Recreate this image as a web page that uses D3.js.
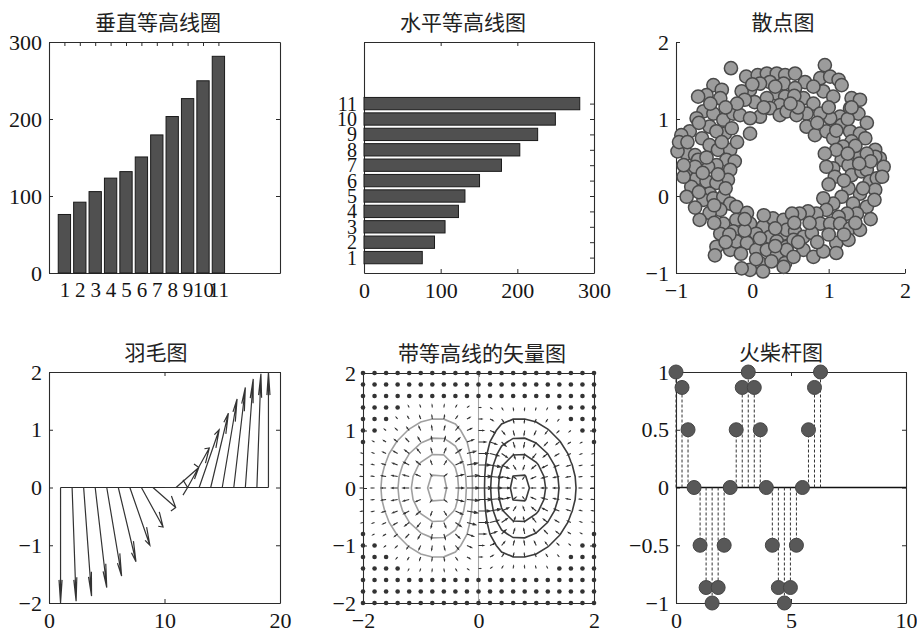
<!DOCTYPE html>
<html><head><meta charset="utf-8">
<script src="https://cdn.jsdelivr.net/npm/d3@7"></script>
<style>body{margin:0;background:#fff}svg{display:block}</style>
</head><body>
<svg id="c" width="917" height="634"></svg>
<script>
// ---------------- data ----------------
const titles = ["垂直等高线圈", "水平等高线图", "散点图", "羽毛图", "带等高线的矢量图", "火柴杆图"];

// bar charts (census-like growth values)
const barCategories = [1, 2, 3, 4, 5, 6, 7, 8, 9, 10, 11];
const barValues = [75.995, 91.972, 105.711, 123.203, 131.669, 150.697, 179.323, 203.212, 226.505, 249.633, 281.422];
const barValueTicks = [0, 100, 200, 300];

// scatter ring (positions)
const scatterX = [-0.28,-0.08,0.07,0.19,0.32,0.43,0.23,0.10,-0.03,-0.14,0.41,0.32,0.19,0.03,-0.10,0.43,0.36,0.23,0.10,0.36,0.45,
 -0.51,-0.40,-0.60,-0.71,-0.42,-0.64,-0.73,-0.51,-0.38,-0.25,-0.16,-0.03,-0.03,-0.56,-0.66,-0.82,-0.93,-0.36,-0.47,-0.27,
 -0.86,-0.75,-0.56,-0.45,-0.29,-0.34,-0.23,-0.47,-0.58,-0.71,-0.82,-0.73,-0.60,-0.29,-0.32,-0.47,-0.80,-0.86,-0.56,-0.64,-0.51,-0.38,-0.29,-0.21,-0.42,-0.56,-0.69,-0.38,-0.21,-0.07,-0.03,0.14,0.05,0.27,0.41,0.41,0.23,-0.25,-0.42,-0.47,-0.49,-0.29,-0.21,-0.07,0.05,0.19,0.32,0.10,-0.03,-0.14,0.14,0.43,0.32,0.45,
 0.95,0.56,0.69,0.89,1.02,1.13,0.56,0.67,0.80,0.93,1.06,1.17,1.30,1.41,1.39,1.28,1.15,1.02,0.89,0.71,0.58,0.71,0.82,0.97,1.06,1.17,1.28,1.41,1.48,1.30,1.19,
 1.61,1.67,1.72,1.61,1.41,1.17,1.06,0.97,1.08,1.26,1.30,1.43,1.50,1.54,1.63,1.61,1.41,1.26,1.17,1.06,0.93,1.32,1.50,1.37,1.24,1.13,0.97,0.84,0.73,0.62,0.52,0.89,1.02,1.15,1.28,1.41,0.45,0.56,0.67,0.78,0.54,0.67,0.80,0.93,1.10,1.26,1.10,0.45,0.54,0.41,
 -0.98,-0.96,
 0.00,0.30,0.55,0.80,0.60,0.85,0.50,-0.20,0.15,-0.35,-0.55,1.00,1.25,1.10,
 -0.70,-0.85,-0.60,-0.40,-0.20,-0.75,-0.90,-0.65,-0.45,-0.70,-0.90,-0.35,-0.75,-0.50,
 -0.50,-0.30,-0.10,0.10,0.30,0.55,0.75,-0.35,-0.15,0.05,0.25,0.60,0.85,1.00,1.20,0.30,-0.10,0.15,
 1.50,1.35,1.55,1.70,1.45,1.35,1.55,1.20,1.00,1.10,1.25,1.40,1.60,0.95,1.50,1.30];
const scatterY = [1.66,1.55,1.57,1.59,1.59,1.57,1.48,1.46,1.38,1.36,1.46,1.33,1.27,1.22,1.25,1.29,1.18,1.14,1.03,1.05,1.10,
 1.44,1.38,1.31,1.29,1.27,1.10,1.01,1.07,0.99,1.07,1.05,1.01,0.81,0.90,0.75,0.84,0.79,0.81,0.84,0.88,
 0.55,0.53,0.66,0.60,0.60,0.47,0.45,0.40,0.38,0.47,0.32,0.23,0.19,0.34,0.21,0.17,0.12,-0.01,0.03,-0.05,-0.03,-0.01,-0.10,-0.14,-0.18,-0.22,-0.31,-0.36,-0.31,-0.22,-0.36,-0.40,-0.49,-0.29,-0.31,-0.49,-0.53,-0.46,-0.49,-0.66,-0.77,-0.70,-0.59,-0.61,-0.70,-0.70,-0.77,-0.87,-0.96,-0.94,-0.98,-0.87,-0.59,-0.66,
 1.70,1.59,1.48,1.53,1.55,1.51,1.40,1.27,1.20,1.36,1.29,1.44,1.27,1.25,1.07,1.14,1.03,1.01,1.07,1.07,1.05,0.90,0.79,0.84,0.75,0.92,0.84,0.81,0.75,0.71,0.64,
 0.60,0.49,0.38,0.51,0.51,0.47,0.36,0.38,0.25,0.40,0.27,0.32,0.34,0.19,0.23,0.08,0.03,0.10,-0.01,-0.10,-0.03,-0.10,-0.14,-0.23,-0.23,-0.27,-0.18,-0.23,-0.20,-0.23,-0.23,-0.36,-0.36,-0.36,-0.42,-0.44,-0.44,-0.46,-0.53,-0.48,-0.57,-0.70,-0.79,-0.72,-0.61,-0.57,-0.74,-0.70,-0.79,-0.92,
 0.58,0.70,
 1.45,1.42,1.30,1.42,1.15,0.95,1.20,1.20,1.15,1.15,1.20,1.15,1.00,0.85,
 0.95,0.70,0.50,0.70,0.70,0.38,0.25,0.30,0.28,0.05,0.40,0.10,-0.15,-0.12,
 -0.35,-0.50,-0.45,-0.55,-0.42,-0.35,-0.35,-0.60,-0.75,-0.82,-0.85,-0.60,-0.60,-0.50,-0.50,-0.65,-0.30,-0.25,
 0.55,0.65,0.45,0.25,0.10,-0.35,-0.30,0.20,0.15,0.60,0.55,0.42,-0.05,0.55,0.95,1.15];
const scatterTicks = [-1, 0, 1, 2];

// feather (19 vectors of length 2, angles -90..90)
const featherPos = [1,2,3,4,5,6,7,8,9,10,11,12,13,14,15,16,17,18,19];
const featherU = [0,0.3473,0.6840,1.0000,1.2856,1.5321,1.7321,1.8794,1.9696,2.0000,1.9696,1.8794,1.7321,1.5321,1.2856,1.0000,0.6840,0.3473,0];
const featherV = [-2,-1.9696,-1.8794,-1.7321,-1.5321,-1.2856,-1.0000,-0.6840,-0.3473,0,0.3473,0.6840,1.0000,1.2856,1.5321,1.7321,1.8794,1.9696,2];
const featherXTicks = [0, 10, 20];
const featherYTicks = [-2, -1, 0, 1, 2];

// quiver + contour: separable surface z(x,y) = xProfile(x) * yProfile(y) on a 21x21 grid
const quiverGrid = [-2,-1.8,-1.6,-1.4,-1.2,-1,-0.8,-0.6,-0.4,-0.2,0,0.2,0.4,0.6,0.8,1,1.2,1.4,1.6,1.8,2];
const quiverXProfile = [-0.036631,-0.070495,-0.123687,-0.197201,-0.284313,-0.367879,-0.421834,-0.418606,-0.340858,-0.192158,0,
  0.192158,0.340858,0.418606,0.421834,0.367879,0.284313,0.197201,0.123687,0.070495,0.036631];
const quiverYProfile = [0.018316,0.039164,0.077305,0.140858,0.236928,0.367879,0.527292,0.697676,0.852144,0.960789,1,
  0.960789,0.852144,0.697676,0.527292,0.367879,0.236928,0.140858,0.077305,0.039164,0.018316];
const contourLevels = [-0.4,-0.3,-0.2,-0.1,0,0.1,0.2,0.3,0.4];
const quiverXTicks = [-2, 0, 2];
const quiverYTicks = [-2, -1, 0, 1, 2];

// stem
const stemX = [0,0.2618,0.5236,0.7854,1.0472,1.3090,1.5708,1.8326,2.0944,2.3562,2.6180,2.8798,3.1416,3.4034,3.6652,3.9270,4.1888,4.4506,4.7124,4.9742,5.2360,5.4978,5.7596,6.0214,6.2832];
const stemY = [1,0.866,0.5,0,-0.5,-0.866,-1,-0.866,-0.5,0,0.5,0.866,1,0.866,0.5,0,-0.5,-0.866,-1,-0.866,-0.5,0,0.5,0.866,1];
const stemXTicks = [0, 5, 10];
const stemYTicks = [-1, -0.5, 0, 0.5, 1];

// ---------------- drawing ----------------
const svg = d3.select("#c");
const SERIF = "'Liberation Serif','Times New Roman',serif";
const CJK = "'Noto Sans CJK SC','Noto Sans CJK JP',sans-serif";
const fmt = d3.format("");
const TK = 4;
const INK = "#2b2b2b";
const FS = 22;

function panel(cfg) {
  const x = d3.scaleLinear().domain(cfg.xDomain).range([cfg.left, cfg.right]);
  const y = d3.scaleLinear().domain(cfg.yDomain).range([cfg.bottom, cfg.top]);
  const g = svg.append("g");
  const styleAxis = (a, fs) => {
    a.attr("font-family", SERIF).attr("font-size", fs || FS);
    a.selectAll(".domain").attr("stroke", INK).attr("stroke-width", 1.1);
    a.selectAll(".tick line").attr("stroke", INK).attr("stroke-width", 1);
    a.selectAll("text").attr("fill", "#151515");
    return a;
  };
  styleAxis(g.append("g").attr("transform", `translate(0,${cfg.bottom})`)
    .call(d3.axisBottom(x).tickValues(cfg.xTicks).tickFormat(fmt).tickSizeInner(-TK).tickSizeOuter(0).tickPadding(9)), cfg.xfs);
  styleAxis(g.append("g").attr("transform", `translate(${cfg.left},0)`)
    .call(d3.axisLeft(y).tickValues(cfg.yTicks).tickFormat(fmt).tickSizeInner(-TK).tickSizeOuter(0).tickPadding(7)), cfg.yfs);
  if (cfg.box) {
    styleAxis(g.append("g").attr("transform", `translate(0,${cfg.top})`)
      .call(d3.axisTop(x).tickValues(cfg.xTicks).tickFormat(() => "").tickSizeInner(-TK).tickSizeOuter(0)));
    styleAxis(g.append("g").attr("transform", `translate(${cfg.right},0)`)
      .call(d3.axisRight(y).tickValues(cfg.yTicks).tickFormat(() => "").tickSizeInner(-TK).tickSizeOuter(0)));
  }
  g.append("text").attr("x", cfg.titleX).attr("y", cfg.top - 12)
    .attr("text-anchor", "middle").attr("font-family", CJK).attr("font-size", 21)
    .attr("fill", "#222").text(cfg.title);
  const marks = g.append("g");
  return { x, y, g, marks, cfg };
}

// 1. vertical bars
{
  const p = panel({left: 49, right: 280, top: 42, bottom: 273, xDomain: [0, 15], yDomain: [0, 300],
    xTicks: barCategories, yTicks: barValueTicks, box: true, title: titles[0], titleX: 158, xfs: 21});
  const bw = (p.x(0.8) - p.x(0));
  p.marks.selectAll("rect").data(barValues).join("rect")
    .attr("x", (d, i) => p.x(barCategories[i]) - bw / 2)
    .attr("width", bw)
    .attr("y", d => p.y(d))
    .attr("height", d => p.y(0) - p.y(d))
    .attr("fill", "#505050").attr("stroke", "#1a1a1a").attr("stroke-width", 1);
}

// 2. horizontal bars
{
  const p = panel({left: 364, right: 594, top: 42, bottom: 273, xDomain: [0, 300], yDomain: [0, 15],
    xTicks: barValueTicks, yTicks: barCategories, box: true, title: titles[1], titleX: 463, yfs: 20});
  const bh = (p.y(0) - p.y(0.8));
  p.marks.selectAll("rect").data(barValues).join("rect")
    .attr("y", (d, i) => p.y(barCategories[i]) - bh / 2)
    .attr("height", bh)
    .attr("x", p.x(0))
    .attr("width", d => p.x(d) - p.x(0))
    .attr("fill", "#505050").attr("stroke", "#1a1a1a").attr("stroke-width", 1);
}

// 3. scatter
{
  const p = panel({left: 676, right: 905, top: 42, bottom: 273, xDomain: [-1, 2], yDomain: [-1, 2],
    xTicks: scatterTicks, yTicks: scatterTicks, box: false, title: titles[2], titleX: 783});
  p.marks.selectAll("circle").data(scatterX).join("circle")
    .attr("cx", d => p.x(d)).attr("cy", (d, i) => p.y(scatterY[i])).attr("r", 6.6)
    .attr("fill", "#9c9c9c").attr("stroke", "#4a4a4a").attr("stroke-width", 1.5);
}

// 4. feather
{
  const p = panel({left: 49, right: 280, top: 372, bottom: 603, xDomain: [0, 20], yDomain: [-2, 2],
    xTicks: featherXTicks, yTicks: featherYTicks, box: true, title: titles[3], titleX: 156});
  const alpha = 0.2, beta = 0.33;
  p.marks.append("line")
    .attr("x1", p.x(featherPos[0])).attr("x2", p.x(featherPos[featherPos.length - 1]))
    .attr("y1", p.y(0)).attr("y2", p.y(0)).attr("stroke", INK).attr("stroke-width", 1.2);
  const path = featherPos.map((x0, i) => {
    const u = featherU[i], v = featherV[i];
    const tx = x0 + u, ty = v;
    const h1x = tx - alpha * (u + beta * v), h1y = ty - alpha * (v - beta * u);
    const h2x = tx - alpha * (u - beta * v), h2y = ty - alpha * (v + beta * u);
    return `M${p.x(x0)},${p.y(0)}L${p.x(tx)},${p.y(ty)}M${p.x(h1x)},${p.y(h1y)}L${p.x(tx)},${p.y(ty)}L${p.x(h2x)},${p.y(h2y)}`;
  }).join("");
  p.marks.append("path").attr("d", path).attr("fill", "none")
    .attr("stroke", "#333").attr("stroke-width", 1.2).attr("stroke-linejoin", "miter");
}

// 5. quiver with contours
{
  const p = panel({left: 363, right: 594, top: 373, bottom: 603, xDomain: [-2, 2], yDomain: [-2, 2],
    xTicks: quiverXTicks, yTicks: quiverYTicks, box: true, title: titles[4], titleX: 482});
  const n = quiverGrid.length;
  const h = quiverGrid[1] - quiverGrid[0];
  const z = [];
  for (let j = 0; j < n; j++) for (let i = 0; i < n; i++) z.push(quiverXProfile[i] * quiverYProfile[j]);
  const Z = (i, j) => z[j * n + i];
  const clipId = "clipQ";
  p.g.append("clipPath").attr("id", clipId).append("rect")
    .attr("x", p.cfg.left).attr("y", p.cfg.top).attr("width", p.cfg.right - p.cfg.left).attr("height", p.cfg.bottom - p.cfg.top);
  const x0 = quiverGrid[0];
  const proj = d3.geoTransform({ point(cx, cy) {
    this.stream.point(p.x(x0 + (cx - 0.5) * h), p.y(x0 + (cy - 0.5) * h));
  }});
  const gp = d3.geoPath(proj);
  const cs = d3.contours().size([n, n]).thresholds(contourLevels)(z);
  const cg = p.marks.append("g").attr("clip-path", `url(#${clipId})`);
  cg.selectAll("path").data(cs).join("path")
    .attr("d", gp).attr("fill", "none")
    .attr("stroke", d => d.value < 0 ? "#a0a0a0" : (d.value === 0 ? "#a8a8a8" : "#3c3c3c"))
    .attr("stroke-width", d => d.value === 0 ? 1.1 : 1.6);
  const gx = [], gy = [];
  for (let j = 0; j < n; j++) for (let i = 0; i < n; i++) {
    const dx = i === 0 ? (Z(1, j) - Z(0, j)) / h : i === n - 1 ? (Z(n - 1, j) - Z(n - 2, j)) / h : (Z(i + 1, j) - Z(i - 1, j)) / (2 * h);
    const dy = j === 0 ? (Z(i, 1) - Z(i, 0)) / h : j === n - 1 ? (Z(i, n - 1) - Z(i, n - 2)) / h : (Z(i, j + 1) - Z(i, j - 1)) / (2 * h);
    gx.push(dx); gy.push(dy);
  }
  const span = quiverGrid[n - 1] - quiverGrid[0];
  const del = 2 * (span / n) ** 2;
  const maxlen = d3.max(gx, (d, k) => Math.sqrt((d * d + gy[k] * gy[k]) / del));
  const s = 0.9 / maxlen;
  const alpha = 0.33, beta = 0.33;
  let arrows = "";
  const dots = [];
  for (let j = 0; j < n; j++) for (let i = 0; i < n; i++) {
    const k = j * n + i;
    const xx = quiverGrid[i], yy = quiverGrid[j];
    const u = gx[k] * s, v = gy[k] * s;
    const plen = Math.hypot(p.x(xx + u) - p.x(xx), p.y(yy + v) - p.y(yy));
    if (plen < 1.6) { dots.push([xx, yy]); continue; }
    const tx = xx + u, ty = yy + v;
    const h1x = tx - alpha * (u + beta * v), h1y = ty - alpha * (v - beta * u);
    const h2x = tx - alpha * (u - beta * v), h2y = ty - alpha * (v + beta * u);
    arrows += `M${p.x(xx)},${p.y(yy)}L${p.x(tx)},${p.y(ty)}M${p.x(h1x)},${p.y(h1y)}L${p.x(tx)},${p.y(ty)}L${p.x(h2x)},${p.y(h2y)}`;
  }
  p.marks.append("path").attr("d", arrows).attr("fill", "none").attr("stroke", "#333").attr("stroke-width", 1.1);
  p.marks.selectAll("circle").data(dots).join("circle")
    .attr("cx", d => p.x(d[0])).attr("cy", d => p.y(d[1])).attr("r", 2.3).attr("fill", "#333");
}

// 6. stem
{
  const p = panel({left: 676, right: 906, top: 372, bottom: 603, xDomain: [0, 10], yDomain: [-1, 1],
    xTicks: stemXTicks, yTicks: stemYTicks, box: true, title: titles[5], titleX: 781});
  p.marks.append("line").attr("x1", p.x(0)).attr("x2", p.x(10)).attr("y1", p.y(0)).attr("y2", p.y(0))
    .attr("stroke", "#111").attr("stroke-width", 1.3);
  p.marks.selectAll("line.stem").data(stemX).join("line").attr("class", "stem")
    .attr("x1", d => p.x(d)).attr("x2", d => p.x(d))
    .attr("y1", p.y(0)).attr("y2", (d, i) => p.y(stemY[i]))
    .attr("stroke", "#333").attr("stroke-width", 1).attr("stroke-dasharray", "3,2");
  p.marks.selectAll("circle").data(stemX).join("circle")
    .attr("cx", d => p.x(d)).attr("cy", (d, i) => p.y(stemY[i])).attr("r", 7)
    .attr("fill", "#585858").attr("stroke", "#454545").attr("stroke-width", 1);
}
</script>
</body></html>
